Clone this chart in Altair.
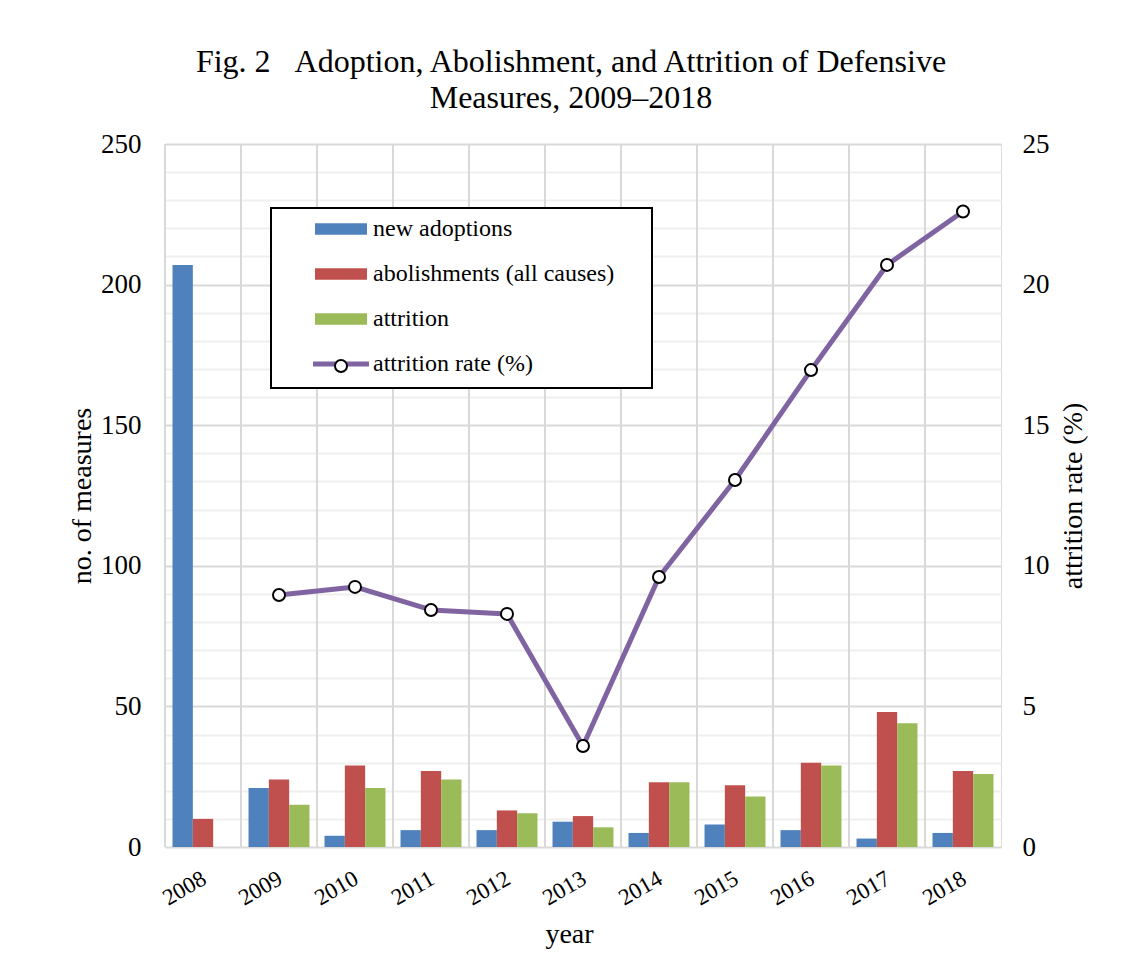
import altair as alt
import pandas as pd

FONT = "Liberation Serif"

years = ["2008", "2009", "2010", "2011", "2012", "2013", "2014", "2015", "2016", "2017", "2018"]
new_adoptions = [207, 21, 4, 6, 6, 9, 5, 8, 6, 3, 5]
abolishments = [10, 24, 29, 27, 13, 11, 23, 22, 30, 48, 27]
attrition = [None, 15, 21, 24, 12, 7, 23, 18, 29, 44, 26]

rate_years = ["2009", "2010", "2011", "2012", "2013", "2014", "2015", "2016", "2017", "2018"]
attrition_rate = [8.96, 9.25, 8.43, 8.29, 3.59, 9.6, 13.05, 16.96, 20.7, 22.6]

S_NEW = "new adoptions"
S_AB = "abolishments (all causes)"
S_AT = "attrition"
S_RATE = "attrition rate (%)"
bar_series = [S_NEW, S_AB, S_AT]
colors = ["#4f81bd", "#c0504d", "#9bbb59", "#8064a2"]

rows = []
for i, y in enumerate(years):
    for s, vals in zip(bar_series, [new_adoptions, abolishments, attrition]):
        if vals[i] is not None:
            rows.append({"year": y, "series": s, "value": vals[i]})
bars_df = pd.DataFrame(rows)
rate_df = pd.DataFrame({"year": rate_years, "rate": attrition_rate,
                        "series": [S_RATE] * len(rate_years), "marker": ["o"] * len(rate_years)})
grid_df = pd.DataFrame({"year": years, "box": ["b"] * len(years)})

x_scale = alt.Scale(domain=years, paddingInner=0, paddingOuter=0)
color_scale = alt.Scale(domain=bar_series + [S_RATE], range=colors)

x_axis = alt.Axis(title="year", titleFont=FONT, titleFontSize=28, titleFontWeight="normal",
                  titleColor="black", titleX=404, titlePadding=11,
                  labelFont=FONT, labelFontSize=23, labelColor="black", labelAngle=-30,
                  labelPadding=20, labelOffset=-4, domain=False, ticks=False, grid=False)

y_left_axis = alt.Axis(title="no. of measures", values=list(range(0, 251, 10)),
                       labelExpr="datum.value % 50 === 0 ? datum.label : ''",
                       labelOverlap=False, grid=True,
                       gridColor={"condition": {"test": "datum.value % 50 === 0", "value": "#d9d9d9"},
                                  "value": "#efefef"},
                       gridWidth=2, domain=False, ticks=False,
                       labelFont=FONT, labelFontSize=27, labelColor="black", labelPadding=24,
                       titleFont=FONT, titleFontSize=28, titleFontWeight="normal",
                       titleColor="black", titlePadding=4)

y_right_axis = alt.Axis(title="attrition rate (%)", orient="right", values=[0, 5, 10, 15, 20, 25],
                        grid=False, domain=False, ticks=False,
                        labelFont=FONT, labelFontSize=27, labelColor="black", labelPadding=21,
                        titleFont=FONT, titleFontSize=28, titleFontWeight="normal",
                        titleColor="black", titleAngle=270, titleBaseline="top", titlePadding=10)

# white box with black border behind the legend entries (381 x 180 px)
legend_box = alt.Legend(
    title=None, orient="none", legendX=290.5, legendY=148, padding=0, zindex=1,
    symbolType="M-38.1,-18H38.1V18H-38.1Z", symbolSize=100,
    symbolFillColor="white", symbolStrokeColor="black", symbolStrokeWidth=2, symbolOpacity=1,
    symbolOffset=0, labelOffset=0, labelExpr="''", labelFontSize=1,
)

# legend entries; the line entry leaves a gap where the circle marker sits
legend_main = alt.Legend(
    title=None, orient="none", legendX=116, legendY=73, padding=0, zindex=2,
    symbolType=alt.ExprRef(expr="datum.value === 'attrition rate (%)' ? 'M-2.33,-0.2H-0.45V0.2H-2.33Z M0.45,-0.2H2.33V0.2H0.45Z' : 'M-2.1667,-0.47H2.1667V0.47H-2.1667Z'"),
    symbolSize=576, symbolStrokeColor="transparent", symbolStrokeWidth=0, symbolOpacity=1,
    symbolOffset=48, labelOffset=20, rowPadding=21,
    labelFont=FONT, labelFontSize=24, labelColor="black", labelLimit=500,
)

# circle marker of the line entry
legend_circle = alt.Legend(
    title=None, orient="none", legendX=169, legendY=215, padding=0, zindex=3,
    symbolType="circle", symbolSize=144, symbolFillColor="white",
    symbolStrokeWidth=2, symbolOpacity=1,
    symbolOffset=0, labelOffset=0, labelExpr="''", labelFontSize=1,
)

rules = alt.Chart(grid_df).mark_rule(color="#d9d9d9", strokeWidth=2).encode(
    x=alt.X("year:N", bandPosition=0, scale=x_scale, axis=x_axis, sort=years),
    opacity=alt.Opacity("box:N", scale=alt.Scale(domain=["b"], range=[1]), legend=legend_box),
)

bars = alt.Chart(bars_df).mark_bar().encode(
    x=alt.X("year:N", scale=x_scale, axis=x_axis, sort=years),
    xOffset=alt.XOffset("series:N", sort=bar_series,
                        scale=alt.Scale(domain=bar_series, paddingInner=0, paddingOuter=0.37)),
    y=alt.Y("value:Q", scale=alt.Scale(domain=[0, 250], nice=False), axis=y_left_axis),
    color=alt.Color("series:N", scale=color_scale, legend=legend_main),
)

line = alt.Chart(rate_df).mark_line(strokeWidth=5, strokeCap="round", strokeJoin="round").encode(
    x=alt.X("year:N", scale=x_scale, axis=x_axis, sort=years),
    y=alt.Y("rate:Q", scale=alt.Scale(domain=[0, 25], nice=False), axis=y_right_axis),
    color=alt.Color("series:N", scale=color_scale, legend=legend_main),
)

points = alt.Chart(rate_df).mark_point(filled=True, fill="white", strokeWidth=2,
                                       size=144, opacity=1, shape="circle").encode(
    x=alt.X("year:N", scale=x_scale, axis=x_axis, sort=years),
    y=alt.Y("rate:Q", scale=alt.Scale(domain=[0, 25], nice=False), axis=y_right_axis),
    stroke=alt.Stroke("marker:N", scale=alt.Scale(domain=["o"], range=["black"]), legend=legend_circle),
)

right = alt.layer(line, points)

chart = alt.layer(rules, bars, right).resolve_scale(y="independent").properties(
    width=836, height=703,
    padding={"left": 60, "top": 38, "right": 10, "bottom": 10},
    title=alt.Title(
        text=["Fig. 2\u00a0\u00a0\u00a0Adoption, Abolishment, and Attrition of Defensive",
              "Measures, 2009\u20132018"],
        font=FONT, fontSize=32, fontWeight="normal", color="black",
        anchor="middle", frame="group", dx=-12, lineHeight=36, offset=15,
    ),
).configure_view(stroke="#d9d9d9", strokeWidth=2).configure(background="white")

chart.save("out.html", embed_options={"renderer": "svg", "actions": False})
